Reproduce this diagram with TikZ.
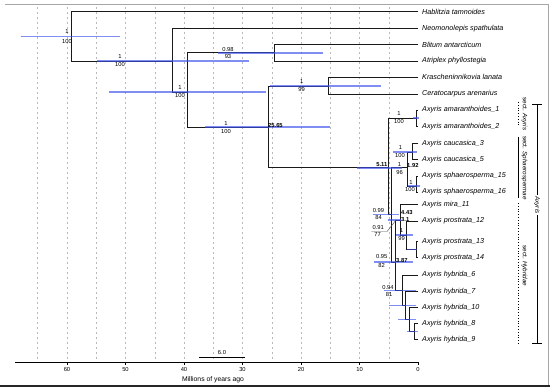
\documentclass[tikz,border=0pt]{standalone}
\usepackage{fontspec}
\setmainfont{Liberation Sans}
\usepackage{tikz}
\definecolor{hpdblue}{RGB}{60,80,235}
\definecolor{gridgray}{RGB}{185,185,185}

\tikzset{
  branch/.style={draw=black!90, line width=0.9pt},
  hpd/.style={draw=hpdblue, line width=1.8pt, opacity=0.65},
  gridline/.style={draw=gridgray, line width=0.5pt, dash pattern=on 2.5pt off 2.5pt},
  taxon/.style={anchor=west, inner xsep=4pt, inner ysep=0.5pt, font=\fontsize{7.2}{8}\selectfont\itshape},
  support/.style={inner sep=0pt, font=\fontsize{5.8}{6}\selectfont},
  agelbl/.style={inner sep=0pt, font=\fontsize{5.8}{6}\selectfont\bfseries},
  sectlbl/.style={rotate=-90, inner sep=0.5pt, font=\fontsize{6.3}{7}\selectfont},
  ticklbl/.style={inner sep=0pt, font=\fontsize{5.8}{6}\selectfont},
}

\begin{document}
\begin{tikzpicture}[x=1pt, y=-1pt]
  \useasboundingbox (0,0) rectangle (550,390);

  % frame
  \draw[gray!70, line width=0.6pt] (5,4) -- (548,4) -- (548,385);
  \draw[black!85, line width=2pt] (0,386) -- (550,386);

  % time grid and axis
  \foreach \t in {5,10,...,65}
    \draw[gridline] ({418-5.85*\t},7) -- ({418-5.85*\t},359);
  \draw[black, line width=0.8pt] (15,362.5) -- (418,362.5);
  \foreach \t in {0,10,...,60} {
    \draw[black, line width=0.6pt] ({418-5.85*\t},362.5) -- ({418-5.85*\t},365.5);
    \node[ticklbl] (tk\t) at ({418-5.85*\t},369.5) {\t};
  }
  \node[font=\fontsize{6.8}{8}\selectfont, inner sep=0pt] (xlab) at (213,380) {Millions of years ago};

  % scale bar
  \draw[black, line width=0.9pt] (199,357.5) -- (245,357.5);
  \node[ticklbl] (sbar) at (222,353) {6.0};

  % tips
  \node[taxon] (hab)  at (418,11.7)  {Hablitzia tamnoides};
  \node[taxon] (neo)  at (418,28.3)  {Neomonolepis spathulata};
  \node[taxon] (bli)  at (418,44.5)  {Blitum antarcticum};
  \node[taxon] (atr)  at (418,61)    {Atriplex phyllostegia};
  \node[taxon] (kra)  at (418,77.3)  {Krascheninnikovia lanata};
  \node[taxon] (cer)  at (418,94)    {Ceratocarpus arenarius};
  \node[taxon] (am1)  at (418,110)   {Axyris amaranthoides\_1};
  \node[taxon] (am2)  at (418,126.5) {Axyris amaranthoides\_2};
  \node[taxon] (ca3)  at (418,143.2) {Axyris caucasica\_3};
  \node[taxon] (ca5)  at (418,159.3) {Axyris caucasica\_5};
  \node[taxon] (sp15) at (418,176)   {Axyris sphaerosperma\_15};
  \node[taxon] (sp16) at (418,192)   {Axyris sphaerosperma\_16};
  \node[taxon] (mi11) at (418,204.5) {Axyris mira\_11};
  \node[taxon] (pr12) at (418,221)   {Axyris prostrata\_12};
  \node[taxon] (pr13) at (418,241.3) {Axyris prostrata\_13};
  \node[taxon] (pr14) at (418,257.2) {Axyris prostrata\_14};
  \node[taxon] (hy6)  at (418,275)   {Axyris hybrida\_6};
  \node[taxon] (hy7)  at (418,291.3) {Axyris hybrida\_7};
  \node[taxon] (hy10) at (418,307.3) {Axyris hybrida\_10};
  \node[taxon] (hy8)  at (418,323.5) {Axyris hybrida\_8};
  \node[taxon] (hy9)  at (418,339.7) {Axyris hybrida\_9};

  % internal nodes (x = age on the time axis)
  \coordinate (root) at (71,36.5);
  \coordinate (n2)   at (172,61);
  \coordinate (n3)   at (187,92);
  \coordinate (ba)   at (274,52.7);
  \coordinate (n4)   at (268.7,127);
  \coordinate (kc)   at (328,86);
  \coordinate (a511) at (388,167.7);
  \coordinate (am)   at (416.5,118);
  \coordinate (x)    at (391.5,214.5);
  \coordinate (s192) at (407,167.7);
  \coordinate (ca)   at (412.7,152);
  \coordinate (sp)   at (416.5,186);
  \coordinate (y)    at (395,262);
  \coordinate (p3)   at (400,220);
  \coordinate (p2)   at (406.5,235);
  \coordinate (p1)   at (416.8,249.5);
  \coordinate (h4)   at (402.7,290.5);
  \coordinate (h3)   at (405.5,305.5);
  \coordinate (h2)   at (409.5,319.5);
  \coordinate (h1)   at (414.3,331.6);

  % branches
  \foreach \p/\c in {root/hab.west, root/n2, n2/neo.west, n2/n3, n3/ba, n3/n4,
      ba/bli.west, ba/atr.west, n4/kc, n4/a511, kc/kra.west, kc/cer.west,
      a511/am, a511/x, am/am1.west, am/am2.west, x/s192, x/y,
      s192/ca, s192/sp, ca/ca3.west, ca/ca5.west, sp/sp15.west, sp/sp16.west,
      y/p3, y/h4, p3/mi11.west, p3/p2, p2/pr12.west, p2/p1, p1/pr13.west, p1/pr14.west,
      h4/hy6.west, h4/h3, h3/hy7.west, h3/h2, h2/hy10.west, h2/h1, h1/hy8.west, h1/hy9.west}
    \draw[branch] (\p) |- (\c);

  % 95% HPD bars
  \foreach \n/\a/\b in {root/20.7/120, n2/97/249, n3/109/265.7, ba/218/323,
      n4/205/330, kc/270/381, a511/356.7/402, am/413/419, ca/393/417,
      sp/408/420, x/372.7/398.7, p3/387.7/401, p2/396/413.3, p1/406.7/417,
      y/374/413, h4/384.3/415.7, h3/389.3/415.7, h2/398/415.7, h1/407.3/417.7}
    \draw[hpd] (\a,0 |- \n) -- (\b,0 |- \n);

  % posterior / bootstrap
  \node[support] (pr)  at (67,32)      {1};    \node[support] (br)  at (67,41.5)    {100};
  \node[support] (pn2) at (120,57)     {1};    \node[support] (bn2) at (120,65)     {100};
  \node[support] (pn3) at (180,88)     {1};    \node[support] (bn3) at (180,96)     {100};
  \node[support] (pba) at (228,49.5)   {0.98}; \node[support] (bba) at (228,57)     {93};
  \node[support] (pn4) at (226,123.5)  {1};    \node[support] (bn4) at (226,131.5)  {100};
  \node[support] (pkc) at (301.7,82)   {1};    \node[support] (bkc) at (301.7,89.5) {99};
  \node[support] (pam) at (399,114)    {1};    \node[support] (bam) at (399,121.5)  {100};
  \node[support] (pca) at (400.5,148)  {1};    \node[support] (bca) at (400,155.5)  {100};
  \node[support] (ps1) at (399.5,164.5){1};    \node[support] (bs1) at (399.5,172.3){96};
  \node[support] (psp) at (411,182.5)  {1};    \node[support] (bsp) at (410,190)    {100};
  \node[support] (px)  at (378.5,211)  {0.99}; \node[support] (bx)  at (378.5,217.5){84};
  \node[support] (pp3) at (378.3,228)  {0.91}; \node[support] (bp3) at (377.7,235)  {77};
  \node[support] (pp2) at (401.5,231)  {1};    \node[support] (bp2) at (401.5,239)  {99};
  \node[support] (py)  at (381.7,257)  {0.95}; \node[support] (by)  at (381.7,265.7){82};
  \node[support] (ph4) at (388,287.3)  {0.94}; \node[support] (bh4) at (389,295)    {81};
  \draw[black!70, line width=0.4pt] ([xshift=-1pt,yshift=-1.2pt]pp3.south west)
    -- ([xshift=3pt,yshift=-1.2pt]pp3.south east) -- ([xshift=-4pt]p3);

  % node ages
  \node[agelbl, anchor=west] (g1) at (268,126)   {25.65};
  \node[agelbl, anchor=east] (g2) at (387.5,165) {5.11};
  \node[agelbl, anchor=west] (g3) at (407,166)   {1.92};
  \node[agelbl, anchor=west] (g4) at (401,212.5) {4.43};
  \node[agelbl, anchor=west] (g5) at (401,219.5) {3.1};
  \node[agelbl, anchor=west] (g6) at (396,260.5) {3.87};

  % sections
  \draw[black, line width=0.8pt, dotted] (518.5,102) -- (518.5,127);
  \draw[black, line width=0.6pt] (518.5,137) -- (518.5,198);
  \draw[black, line width=0.8pt, dotted] (518.5,203) -- (518.5,345);
  \node[sectlbl] (sax) at (524.5,114) {sect. \textit{Axyris}};
  \node[sectlbl] (ssp) at (524.5,168) {sect. \textit{Sphaerospermae}};
  \node[sectlbl] (shy) at (524.5,266) {sect. \textit{Hybridae}};

  % genus
  \node[sectlbl, inner sep=1.5pt] (gen) at (537,205) {\textit{Axyris}};
  \draw[black, line width=0.8pt] (532,104.5) -- (542,104.5);
  \draw[black, line width=0.8pt] (537,104.5) -- (gen.west);
  \draw[black, line width=0.8pt] (gen.east) -- (537,343);
  \draw[black, line width=0.8pt] (532,343) -- (542,343);
\end{tikzpicture}
\end{document}
